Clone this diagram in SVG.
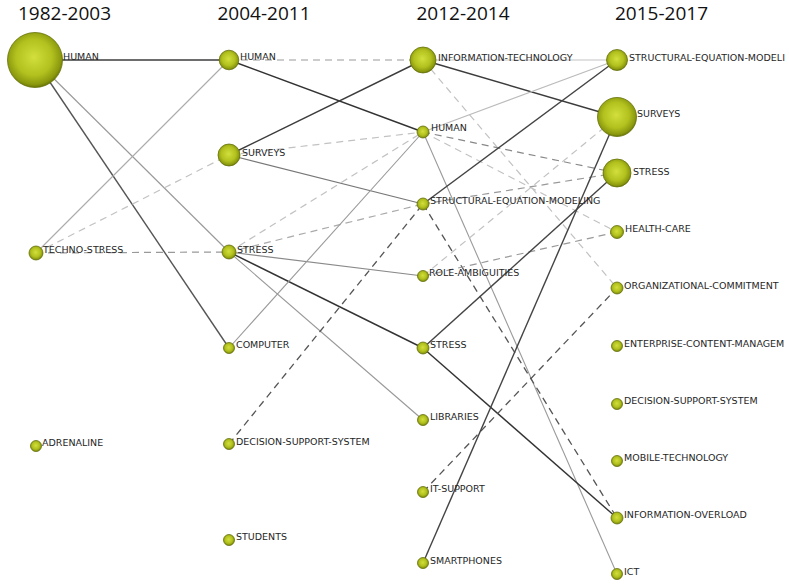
<svg xmlns="http://www.w3.org/2000/svg" width="789" height="588" viewBox="0 0 789 588">
<defs>
<radialGradient id="g" cx="48%" cy="45%" r="55%">
<stop offset="0" stop-color="#d2df3c"/>
<stop offset="0.6" stop-color="#b2c11e"/>
<stop offset="0.9" stop-color="#8a980e"/>
<stop offset="1" stop-color="#6a7606"/>
</radialGradient>
<style>
.hd{font-family:"Open Sans","Liberation Sans",sans-serif;font-size:19px;fill:#111;text-anchor:middle}
.lb{font-family:"DejaVu Sans","Liberation Sans",sans-serif;font-size:9.5px;fill:#262626}
.n{fill:url(#g);stroke:#66720a;stroke-width:0.8}
line{fill:none}
.d{stroke:#3c3c3c;stroke-width:1.4}
.m{stroke:#8a8a8a;stroke-width:1.1}
.l{stroke:#c4c4c4;stroke-width:1.1}
.dd{stroke:#555;stroke-width:1.3;stroke-dasharray:7 5}
.dm{stroke:#999;stroke-width:1.2;stroke-dasharray:7 5}
.dl{stroke:#c2c2c2;stroke-width:1.2;stroke-dasharray:7 5}
</style>
</defs>
<rect width="789" height="588" fill="#fff"/>
<g id="headers">
<text class="hd" x="64.5" y="20">1982-2003</text>
<text class="hd" x="264" y="20">2004-2011</text>
<text class="hd" x="463" y="20">2012-2014</text>
<text class="hd" x="661.5" y="20">2015-2017</text>
</g>
<g id="connectors">
<line class="d" x1="35" y1="60" x2="229" y2="60"/>
<line class="d" x1="35" y1="60" x2="229" y2="348" style="stroke:#555"/>
<line class="m" x1="35" y1="60" x2="229" y2="252" style="stroke:#999"/>
<line class="m" x1="36" y1="253" x2="229" y2="60" style="stroke:#aaa"/>
<line class="dl" x1="36" y1="253" x2="229" y2="155"/>
<line class="dm" x1="36" y1="253" x2="229" y2="252"/>
<line class="dm" x1="229" y1="60" x2="423" y2="60"/>
<line class="d" x1="229" y1="60" x2="423" y2="132" style="stroke:#333"/>
<line class="d" x1="229" y1="155" x2="423" y2="60"/>
<line class="m" x1="229" y1="155" x2="423" y2="204" style="stroke:#777"/>
<line class="dl" x1="229" y1="155" x2="423" y2="132"/>
<line class="dl" x1="229" y1="252" x2="423" y2="132"/>
<line class="dl" x1="229" y1="252" x2="423" y2="204" style="stroke:#aaa"/>
<line class="m" x1="229" y1="252" x2="423" y2="276"/>
<line class="d" x1="229" y1="252" x2="423" y2="348" style="stroke:#333"/>
<line class="m" x1="229" y1="252" x2="423" y2="420" style="stroke:#999"/>
<line class="m" x1="229" y1="348" x2="423" y2="132" style="stroke:#999"/>
<line class="dd" x1="229" y1="444" x2="423" y2="204"/>
<line class="l" x1="423" y1="60" x2="617" y2="60"/>
<line class="d" x1="423" y1="60" x2="617" y2="117"/>
<line class="dl" x1="423" y1="60" x2="617" y2="288"/>
<line class="l" x1="423" y1="132" x2="617" y2="60" style="stroke:#bbb"/>
<line class="dm" x1="423" y1="132" x2="617" y2="173" style="stroke:#888"/>
<line class="dl" x1="423" y1="132" x2="617" y2="232"/>
<line class="m" x1="423" y1="132" x2="617" y2="574" style="stroke:#999"/>
<line class="d" x1="423" y1="204" x2="617" y2="60" style="stroke:#444"/>
<line class="dm" x1="423" y1="204" x2="617" y2="173"/>
<line class="dd" x1="423" y1="204" x2="617" y2="518"/>
<line class="dl" x1="423" y1="276" x2="617" y2="117"/>
<line class="dm" x1="423" y1="276" x2="617" y2="232"/>
<line class="d" x1="423" y1="348" x2="617" y2="173" style="stroke:#444"/>
<line class="d" x1="423" y1="348" x2="617" y2="518" style="stroke:#333"/>
<line class="dd" x1="423" y1="492" x2="617" y2="288"/>
<line class="d" x1="423" y1="563" x2="617" y2="117" style="stroke:#444"/>
</g>
<g id="n-human-1982"><circle class="n" cx="35" cy="60" r="27.5"/><text class="lb" x="63" y="60">HUMAN</text></g>
<g id="n-techno-stress-1982"><circle class="n" cx="36" cy="253" r="7"/><text class="lb" x="43" y="253">TECHNO-STRESS</text></g>
<g id="n-adrenaline-1982"><circle class="n" cx="36" cy="446" r="5.5"/><text class="lb" x="42" y="446">ADRENALINE</text></g>
<g id="n-human-2004"><circle class="n" cx="229" cy="60" r="9.8"/><text class="lb" x="240" y="60">HUMAN</text></g>
<g id="n-surveys-2004"><circle class="n" cx="229" cy="155" r="11"/><text class="lb" x="242" y="156">SURVEYS</text></g>
<g id="n-stress-2004"><circle class="n" cx="229" cy="252" r="7"/><text class="lb" x="237" y="253">STRESS</text></g>
<g id="n-computer-2004"><circle class="n" cx="229" cy="348" r="5.5"/><text class="lb" x="236" y="348">COMPUTER</text></g>
<g id="n-dss-2004"><circle class="n" cx="229" cy="444" r="5.5"/><text class="lb" x="236" y="445">DECISION-SUPPORT-SYSTEM</text></g>
<g id="n-students-2004"><circle class="n" cx="229" cy="540" r="5.5"/><text class="lb" x="236" y="540">STUDENTS</text></g>
<g id="n-it-2012"><circle class="n" cx="423" cy="60" r="13"/><text class="lb" x="438" y="61">INFORMATION-TECHNOLOGY</text></g>
<g id="n-human-2012"><circle class="n" cx="423" cy="132" r="6"/><text class="lb" x="431" y="131">HUMAN</text></g>
<g id="n-sem-2012"><circle class="n" cx="423" cy="204" r="6"/><text class="lb" x="430" y="204">STRUCTURAL-EQUATION-MODELING</text></g>
<g id="n-role-2012"><circle class="n" cx="423" cy="276" r="5.5"/><text class="lb" x="429" y="276">ROLE-AMBIGUITIES</text></g>
<g id="n-stress-2012"><circle class="n" cx="423" cy="348" r="6"/><text class="lb" x="430" y="348">STRESS</text></g>
<g id="n-libraries-2012"><circle class="n" cx="423" cy="420" r="5.5"/><text class="lb" x="430" y="420">LIBRARIES</text></g>
<g id="n-itsupport-2012"><circle class="n" cx="423" cy="492" r="5.5"/><text class="lb" x="430" y="492">IT-SUPPORT</text></g>
<g id="n-smartphones-2012"><circle class="n" cx="423" cy="563" r="5.5"/><text class="lb" x="430" y="564">SMARTPHONES</text></g>
<g id="n-sem-2015"><circle class="n" cx="617" cy="60" r="10.5"/><text class="lb" x="629" y="61">STRUCTURAL-EQUATION-MODELI</text></g>
<g id="n-surveys-2015"><circle class="n" cx="617" cy="117" r="19.5"/><text class="lb" x="637" y="117">SURVEYS</text></g>
<g id="n-stress-2015"><circle class="n" cx="617" cy="173" r="14"/><text class="lb" x="633" y="175">STRESS</text></g>
<g id="n-healthcare-2015"><circle class="n" cx="617" cy="232" r="6.5"/><text class="lb" x="625" y="232">HEALTH-CARE</text></g>
<g id="n-orgcommit-2015"><circle class="n" cx="617" cy="288" r="6"/><text class="lb" x="624" y="289">ORGANIZATIONAL-COMMITMENT</text></g>
<g id="n-ecm-2015"><circle class="n" cx="617" cy="346" r="5.5"/><text class="lb" x="624" y="347">ENTERPRISE-CONTENT-MANAGEM</text></g>
<g id="n-dss-2015"><circle class="n" cx="617" cy="404" r="5.5"/><text class="lb" x="624" y="404">DECISION-SUPPORT-SYSTEM</text></g>
<g id="n-mobile-2015"><circle class="n" cx="617" cy="461" r="5.5"/><text class="lb" x="624" y="461">MOBILE-TECHNOLOGY</text></g>
<g id="n-overload-2015"><circle class="n" cx="617" cy="518" r="6"/><text class="lb" x="624" y="518">INFORMATION-OVERLOAD</text></g>
<g id="n-ict-2015"><circle class="n" cx="617" cy="574" r="5.5"/><text class="lb" x="624" y="575">ICT</text></g>
</svg>
